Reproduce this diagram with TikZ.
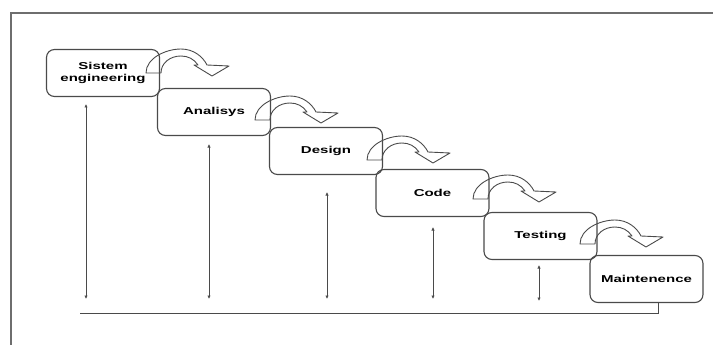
\documentclass[tikz,border=0pt]{standalone}
\usepackage{fontspec}
\newfontfamily\boxfont[FakeStretch=1.5]{Liberation Sans}
\usetikzlibrary{arrows.meta}
\definecolor{ln}{HTML}{4A4A4A}
\tikzset{
  stage/.style={draw=ln, line width=1.1pt, rounded corners=8pt, minimum width=113pt,
    minimum height=47pt, inner sep=0pt, align=center, font=\boxfont\bfseries\fontsize{10}{12}\selectfont},
  frame/.style={draw=ln!80, line width=1.6pt},
  link/.style={draw=ln, line width=0.7pt, {Latex[length=3.5pt,width=3.5pt]}-{Latex[length=3.5pt,width=3.5pt]}},
  base/.style={draw=ln, line width=1pt},
  curvarr/.pic={
    \draw[ln, line width=0.9pt, line join=round]
      (-15,0) .. controls (-15,-15) and (5,-24) .. (20,-24)
      .. controls (33,-24) and (42,-16) .. (46,-8)
      -- (68,-7) -- (51,3) -- (33,-8) -- (37,-8)
      .. controls (33,-14) and (27,-17) .. (20,-17)
      .. controls (9,-17) and (0,-10) .. (0,0) -- cycle;
  }
}
\begin{document}
\begin{tikzpicture}[x=1pt,y=-1pt]
\useasboundingbox (0,0) rectangle (713,345);
% frame
\draw[frame] (11,345) -- (11,13) -- (713,13);
% stages
\node[stage] (s1) at (103,73) {Sistem\\engineering};
\node[stage] (s2) at (214,112) {Analisys};
\node[stage] (s3) at (326,151) {Design};
\node[stage] (s4) at (432.5,193) {Code};
\node[stage] (s5) at (540.5,236) {Testing};
\node[stage] (s6) at (646.5,279) {Maintenence};
% curved arrows
\pic at (161,73) {curvarr};
\pic at (270,120) {curvarr};
\pic at (382,160) {curvarr};
\pic at (488,199) {curvarr};
\pic at (595,244) {curvarr};
% vertical feedback arrows
\coordinate (t1) at (86,104);  \coordinate (b1) at (86,299);
\coordinate (t2) at (209,144); \coordinate (b2) at (209,299);
\coordinate (t3) at (327,192); \coordinate (b3) at (327,299);
\coordinate (t4) at (433,227); \coordinate (b4) at (433,299);
\coordinate (t5) at (539,265); \coordinate (b5) at (539,301);
\foreach \i in {1,...,5}{\draw[link] (t\i) -- (b\i);}
% bottom line
\coordinate (bl) at (80,313);
\coordinate (br) at (658,313);
\draw[base] (bl) -- (br) -- (br |- s6.south);
\end{tikzpicture}
\end{document}
